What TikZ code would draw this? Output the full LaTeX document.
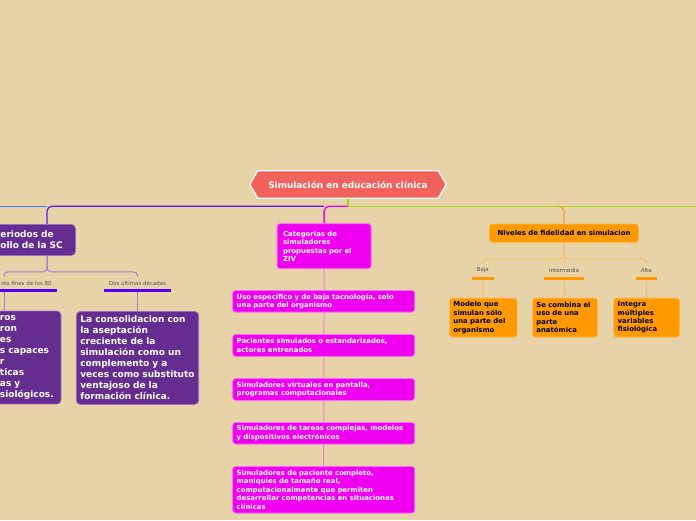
\documentclass[tikz,border=0pt]{standalone}
\usepackage{fontspec}
\setmainfont{DejaVu Sans}
\usetikzlibrary{calc}
\pgfdeclarelayer{back}
\pgfdeclarelayer{bg}
\pgfdeclarelayer{mid}
\pgfsetlayers{back,bg,mid,main}
\definecolor{bgtan}{RGB}{232,211,168}
\definecolor{croot}{RGB}{242,98,92}
\definecolor{cpurple}{RGB}{102,45,145}
\definecolor{cpurpleline}{RGB}{150,110,190}
\definecolor{cmag}{RGB}{240,0,240}
\definecolor{cmagline}{RGB}{248,110,248}
\definecolor{corange}{RGB}{255,153,0}
\definecolor{corangeline}{RGB}{255,185,80}
\definecolor{cblue}{RGB}{95,25,245}
\definecolor{clightblue}{RGB}{70,130,255}
\definecolor{cbar}{RGB}{85,0,255}
\definecolor{clav}{RGB}{165,125,210}
\definecolor{cgreen}{RGB}{160,225,30}
\definecolor{cpinkline}{RGB}{230,130,210}
\definecolor{corl}{RGB}{245,190,110}
\definecolor{corconn}{RGB}{250,160,40}
\definecolor{clabel}{RGB}{85,85,85}
\tikzset{
  purplebox/.style={fill=cpurple, draw=cpurpleline, line width=0.8pt, rounded corners=4pt,
    text=white, font=\bfseries\fontsize{9}{11}\selectfont, align=left, inner xsep=4pt, inner ysep=3pt},
  pinkbox/.style={fill=cmag, draw=cmagline, line width=0.8pt, rounded corners=3pt,
    text=white, font=\bfseries\fontsize{6.9}{8.5}\selectfont, align=left, inner xsep=4pt,
    inner ysep=2pt, text width=174pt, anchor=north west},
  orangebox/.style={fill=corange, draw=corangeline, line width=0.8pt, rounded corners=3pt,
    text=black, font=\bfseries\fontsize{6.9}{8.4}\selectfont, align=left, inner xsep=4pt,
    inner ysep=2pt, anchor=north west, minimum height=39pt},
  lab/.style={font=\fontsize{5.5}{6.5}\selectfont, text=clabel, inner xsep=5pt, inner ysep=0pt},
  ubarblue/.style={draw=cbar, line width=3pt},
  ubarorange/.style={draw=corange, line width=3pt},
}
\begin{document}
\begin{tikzpicture}[x=1pt,y=-1pt]
\useasboundingbox (0,0) rectangle (696,520);
\begin{pgfonlayer}{back}
\fill[bgtan] (0,0) rectangle (696,520);
\end{pgfonlayer}

% root
\node (root) [font=\bfseries\fontsize{8.9}{10}\selectfont, text=white, minimum width=180pt,
  minimum height=27pt, inner sep=0pt] at (348,184.5) {Simulación en educación clínica};
\begin{pgfonlayer}{mid}
\draw[fill=croot, draw=white, line width=1.2pt] (root.north west) -- (root.north east)
  -- ($(root.east)+(8,0)$) -- (root.south east) -- (root.south west)
  -- ($(root.west)+(-8,0)$) -- cycle;
\end{pgfonlayer}
\coordinate (hub) at ($(root.south)+(0,8)$);
\coordinate (rightend) at (698,0);
\coordinate (leftend) at (-2,0);

% left branch
\node (periodos) [purplebox, anchor=north west, text width=71pt, minimum height=31pt]
  at (-4,224) {eriodos de\\ollo de la SC};
\coordinate (pdtop) at ($(periodos.north west)+(51,0)$);
\coordinate (pdbot) at ($(periodos.south west)+(51,0)$);
\node (lab1) [lab, text width=95.4pt, align=right, minimum height=14pt] at (4,283.7)
  {sta fines de los 80};
\node (lab2) [lab, minimum height=14pt] at (137.5,283.7) {Dos últimas décadas};
\draw[ubarblue] (lab1.south west) -- (lab1.south east);
\draw[ubarblue] (lab2.south west) -- (lab2.south east);
\node (lbox) [purplebox, text width=106pt, minimum height=93pt] at (4,357.5)
  {\hspace*{49pt}ros\\\hspace*{49pt}ron\\\hspace*{49pt}es\\\hspace*{49pt}s capaces\\
   \hspace*{49pt}r\\\hspace*{49pt}ticas\\\hspace*{49pt}as y\\\hspace*{49pt}siológicos.};
\node (rbox) [purplebox, anchor=north, minimum width=121pt, minimum height=93pt]
  at (137.5,311) {La consolidacion con\\la aseptación\\creciente de la\\simulación como un\\
   complemento y a\\veces como substituto\\ventajoso de la\\formación clínica.};

% middle branch
\node (cat) [pinkbox, text width=82pt, inner xsep=6pt, minimum height=45pt] at (276.7,223.3)
  {Categorias de\\simuladores\\propuestas por el\\ZIV};
\node (p1) [pinkbox, minimum height=21.7pt] at (232.3,290)
  {Uso específico y de baja tacnología, solo\\una parte del organismo};
\node (p2) [pinkbox, minimum height=22pt] at (232.3,334)
  {Pacientes simulados o estandarizados,\\actores entrenados};
\node (p3) [pinkbox, minimum height=22pt] at (232.3,378)
  {Simuladores virtuales en pantalla,\\programas computacionales};
\node (p4) [pinkbox, minimum height=21.7pt] at (232.3,422)
  {Simuladores de tareas complejas, modelos\\y dispositivos electrónicos};
\node (p5) [pinkbox, minimum height=46.7pt] at (232.3,466)
  {Simuladores de paciente completo,\\maniquíes de tamaño real,\\computacionalmente que permiten\\desarrollar competencias en situaciones\\clínicas};

% right branch
\node (niv) [fill=corange, draw=corangeline, line width=0.8pt, rounded corners=3pt,
  font=\bfseries\fontsize{6.9}{8.4}\selectfont, minimum width=149.4pt, minimum height=18.3pt]
  at (564,233.2) {Niveles de fidelidad en simulacion};
\node (baja) [lab, minimum height=15pt] at (482.8,270.3) {Baja};
\node (inter) [lab, minimum height=15pt] at (564,270.3) {Intermedia};
\node (alta) [lab, minimum height=15pt] at (646.3,270.3) {Alta};
\draw[ubarorange] (baja.south west) -- (baja.south east);
\draw[ubarorange] (inter.south west) -- (inter.south east);
\draw[ubarorange] (alta.south west) -- (alta.south east);
\node (o1) [orangebox, text width=59.7pt] at (449,297.7)
  {Modelo que\\simulan sólo\\una parte del\\organismo};
\node (o2) [orangebox, text width=57.3pt] at (532,297.7)
  {Se combina el\\uso de una\\parte\\anatómica};
\node (o3) [orangebox, text width=58pt] at (613.3,297.7)
  {Integra\\múltiples\\variables\\fisiológica};

% connectors
\begin{pgfonlayer}{bg}
\draw[corconn, line width=1.3pt, rounded corners=5pt] ($(hub -| niv.north)+(-7,0)$) -| (niv.north);
\draw[cgreen, line width=1.4pt] (root.south) -- (hub) -- (hub -| rightend);
\draw[cblue, line width=1.3pt, rounded corners=5pt] (hub -| cat.north) -| (pdtop);
\draw[clightblue, line width=1.3pt] (hub -| pdtop) -- (hub -| leftend);
\draw[cmag, line width=1.3pt, rounded corners=5pt] (hub) -| (cat.north);
\draw[clav, line width=1pt, rounded corners=4pt] (pdbot) -- ($(pdbot)+(0,16)$) -| (lab1.north);
\draw[clav, line width=1pt, rounded corners=4pt] (pdbot) -- ($(pdbot)+(0,16)$) -| (lab2.north);
\draw[clav, line width=1pt] (lab1.south) -- (lbox.north);
\draw[clav, line width=1pt] (lab2.south) -- (rbox.north);
\draw[cpinkline, line width=1pt] (cat.south) -- (p5.north);
\draw[corl, line width=1pt, rounded corners=4pt] (niv.south) -- ($(niv.south)+(0,16)$) -| (baja.north);
\draw[corl, line width=1pt, rounded corners=4pt] (niv.south) -- ($(niv.south)+(0,16)$) -| (alta.north);
\draw[corl, line width=1pt] (niv.south) -- (inter.north);
\draw[corl, line width=1pt] (baja.south) -- (o1.north);
\draw[corl, line width=1pt] (inter.south) -- (o2.north);
\draw[corl, line width=1pt] (alta.south) -- (o3.north);
\end{pgfonlayer}
\end{tikzpicture}
\end{document}
